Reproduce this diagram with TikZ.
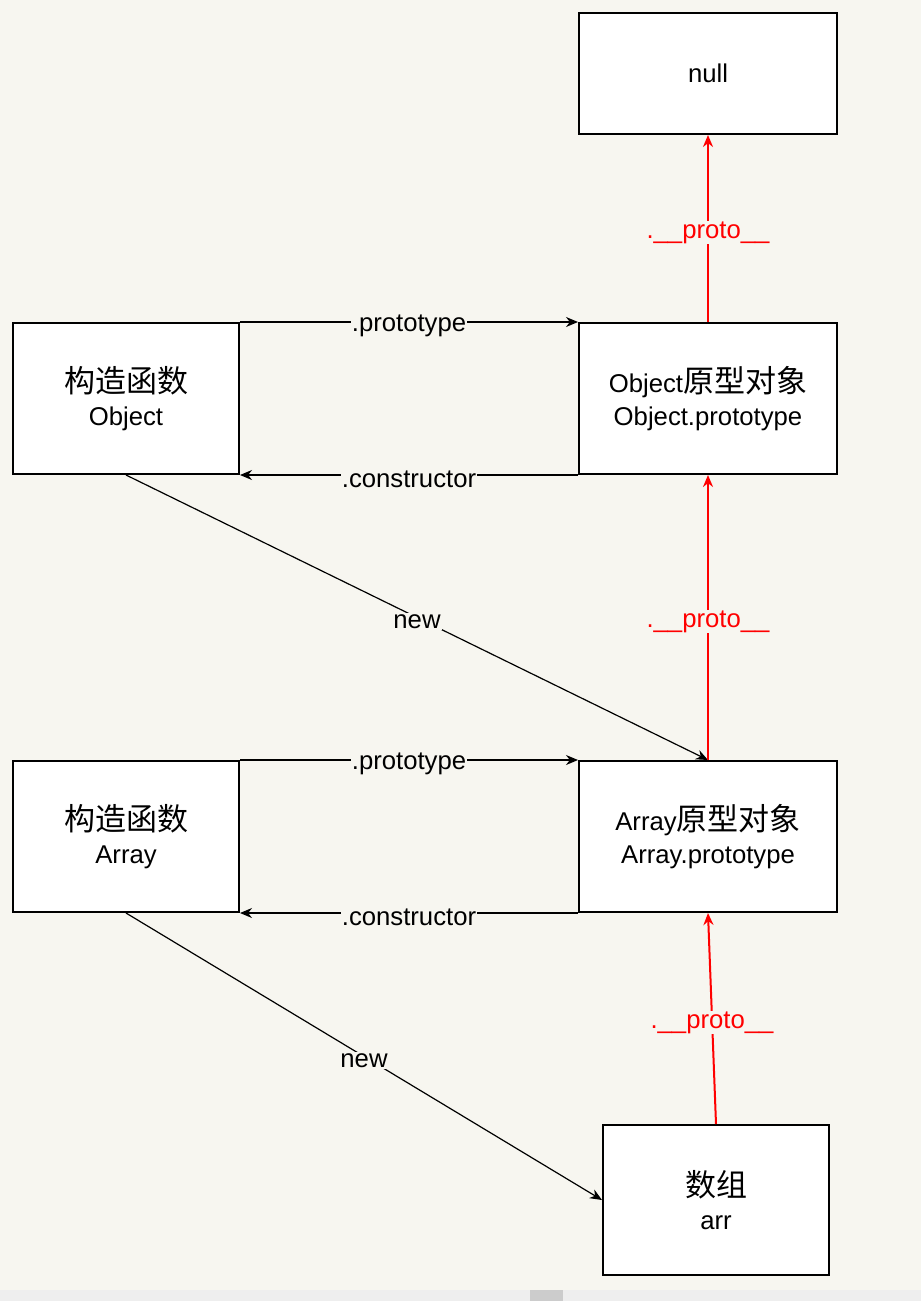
\documentclass[tikz,border=0pt]{standalone}
\usepackage{fontspec}
\setmainfont{Liberation Sans}
\newfontfamily\cjk{Noto Sans CJK SC}
\usepackage{xcolor}
\definecolor{paper}{RGB}{247, 246, 240}
\definecolor{protored}{RGB}{255,   0,   0}
\definecolor{barbg}{RGB}{238, 238, 238}
\definecolor{barthumb}{RGB}{204, 204, 204}
\usetikzlibrary{arrows.meta}
\newcommand{\zh}[1]{{\cjk\fontsize{31}{33}\selectfont #1}}
\tikzset{
  ctorbox/.style={draw=black, fill=white, line width=2pt,
    minimum width=226pt, minimum height=151pt, inner sep=0pt,
    align=center, font=\fontsize{25.7}{33}\selectfont},
  protobox/.style={ctorbox, minimum width=258pt},
  nullbox/.style={ctorbox, minimum width=258pt, minimum height=121pt},
  instbox/.style={ctorbox, minimum height=150pt},
  linklabel/.style={fill=paper, inner sep=1pt, yshift=-4pt,
    font=\fontsize{25.7}{30}\selectfont},
  protolabel/.style={linklabel, text=protored},
  linkarrow/.style={-{Stealth[length=12pt, width=10pt]}, line width=1.2pt, color=black},
  protoarrow/.style={-{Stealth[length=12pt, width=10pt]}, line width=2pt, color=protored}
}

\begin{document}
\begin{tikzpicture}[x=1pt, y=-1pt]

  % page and the scroll bar at the foot
  \fill[paper] (0,0) rectangle (921,1301);
  \fill[barbg] (0,1290) rectangle (921,1301);
  \fill[barthumb] (530,1290) rectangle (563,1301);
  \useasboundingbox (0,0) rectangle (921,1301);

  \node[nullbox]  (nul)      at (708,73.5) {null};
  \node[ctorbox]  (objctor)  at (126,398.5) {\zh{构造函数}\\Object};
  \node[protobox] (objproto) at (708,398.5) {Object\zh{原型对象}\\Object.prototype};
  \node[ctorbox]  (arrctor)  at (126,836.5) {\zh{构造函数}\\Array};
  \node[protobox] (arrproto) at (708,836.5) {Array\zh{原型对象}\\Array.prototype};
  \node[instbox]  (arr)      at (716,1200)  {\zh{数组}\\arr};

  % Object pair
  \draw[linkarrow] (objctor.north east) -- node[linklabel] {.prototype} (objproto.north west);
  \draw[linkarrow] (objproto.south west) -- node[linklabel] {.constructor} (objctor.south east);
  \draw[protoarrow] (objproto.north) -- node[protolabel] {.\_\_proto\_\_} (nul.south);

  % new from Object
  \draw[linkarrow] (objctor.south) -- node[linklabel] {new} (arrproto.north);
  \draw[protoarrow] (arrproto.north) -- node[protolabel] {.\_\_proto\_\_} (objproto.south);

  % Array pair
  \draw[linkarrow] (arrctor.north east) -- node[linklabel] {.prototype} (arrproto.north west);
  \draw[linkarrow] (arrproto.south west) -- node[linklabel] {.constructor} (arrctor.south east);

  % the instance
  \draw[linkarrow] (arrctor.south) -- node[linklabel] {new} (arr.west);
  \draw[protoarrow] (arr.north) -- node[protolabel] {.\_\_proto\_\_} (arrproto.south);

\end{tikzpicture}
\end{document}
